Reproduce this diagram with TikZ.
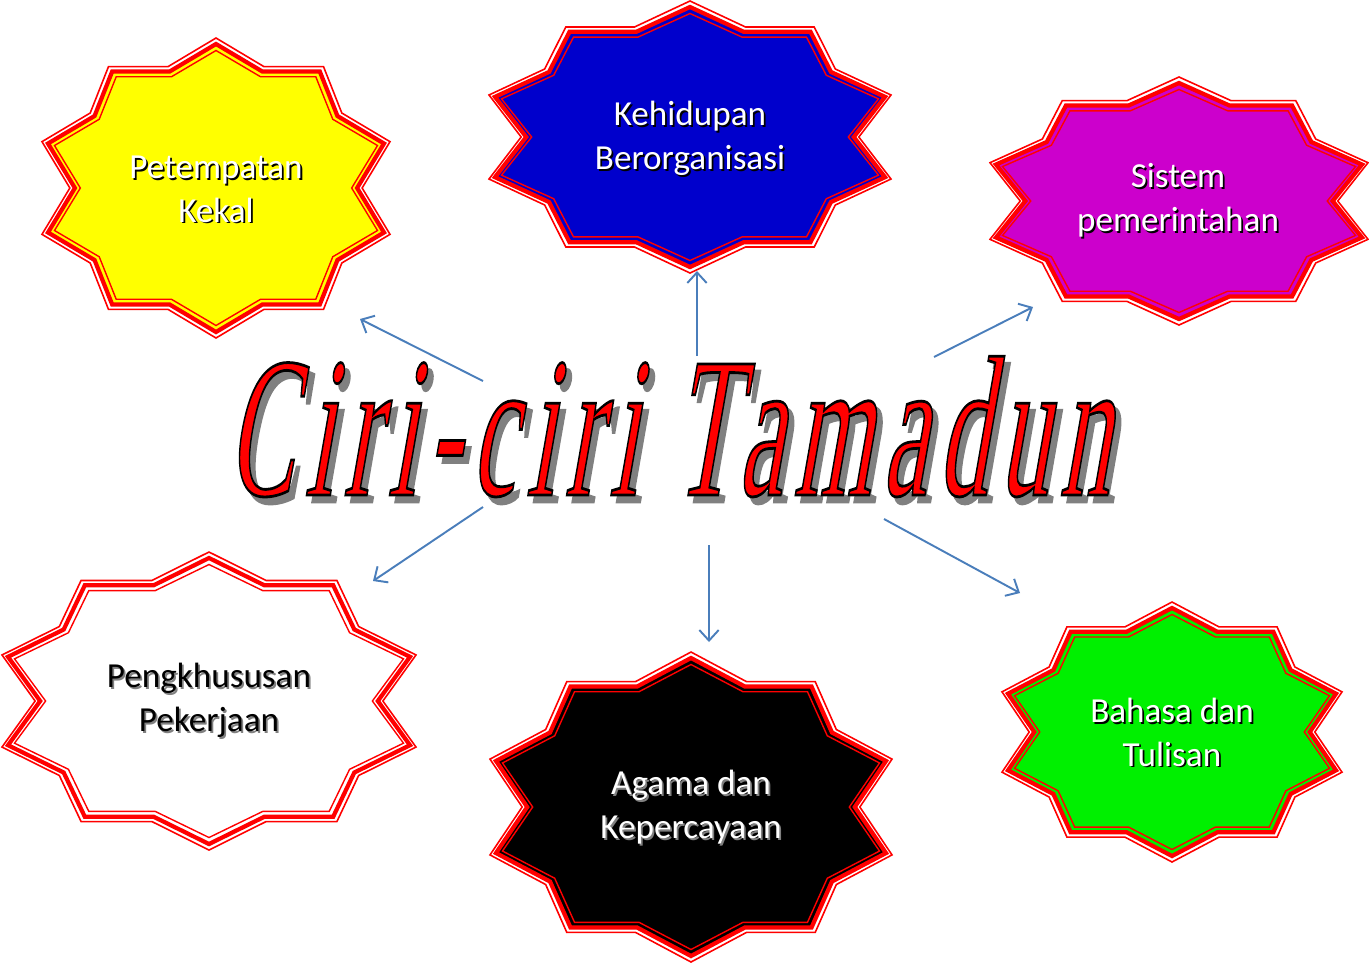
\documentclass[tikz,border=0pt]{standalone}
\usepackage{fontspec}
\setmainfont{Carlito}
\newfontfamily\titlefont[LetterSpace=11,FakeSlant=0.35]{Liberation Serif}
\usetikzlibrary{arrows.meta}

\definecolor{sealred}{HTML}{FF0000}
\definecolor{linkblue}{HTML}{4A7EBB}
\definecolor{sealyellow}{HTML}{FFFF00}
\definecolor{sealblue}{HTML}{0000CC}
\definecolor{sealmagenta}{HTML}{CC00CC}
\definecolor{sealgreen}{HTML}{00F000}
\definecolor{shadowgrey}{HTML}{808080}

\newcommand{\shadowed}[2]{\makebox[0pt][l]{\hspace{1pt}\raisebox{-1pt}{\textcolor{#1}{#2}}}#2}
\newcommand{\outlined}[3]{\textcolor{#1}{\special{pdf:literal direct 2 Tr #2 RG 0.14 w}#3\special{pdf:literal direct 0 Tr}}}

\begin{document}
\begin{tikzpicture}[x=0.02cm,y=-0.02cm,
  sealline/.style={draw=sealred,line join=miter},
  sealtext/.style={font=\fontsize{20}{25}\selectfont,align=center,text=white},
  link/.style={draw=linkblue,line width=1.1pt,-{Straight Barb[length=6pt,width=11pt]}}]

\useasboundingbox (0,0) rectangle (1369,965);

\def\sealpath{(0,1) -- (0.276,0.809) -- (0.618,0.809) -- (0.723,0.5) -- (1,0.309) -- (0.84,0) -- (1,-0.309) -- (0.723,-0.5) -- (0.618,-0.809) -- (0.276,-0.809) -- (0,-1) -- (-0.276,-0.809) -- (-0.618,-0.809) -- (-0.723,-0.5) -- (-1,-0.309) -- (-0.84,0) -- (-1,0.309) -- (-0.723,0.5) -- (-0.618,0.809) -- (-0.276,0.809) -- cycle}

\foreach \cx/\cy/\hw/\hh/\col in {216/188/174/150/sealyellow, 690/137/201/136/sealblue, 1179/201/189/124/sealmagenta, 209/701/207/149/white, 691/807/201/155/black, 1172/732/170/130/sealgreen}
{
  \pgfmathsetmacro{\hwa}{\hw-6}
  \pgfmathsetmacro{\hha}{\hh-6}
  \pgfmathsetmacro{\hwb}{\hw-12.5}
  \pgfmathsetmacro{\hhb}{\hh-12.5}
  \begin{scope}[shift={(\cx,\cy)}]
    \draw[sealline,fill=white,line width=0.9pt,xscale=\hw,yscale=-\hh] \sealpath;
    \draw[sealline,fill=\col,line width=2.4pt,xscale=\hwa,yscale=-\hha] \sealpath;
    \draw[sealline,line width=0.8pt,xscale=\hwb,yscale=-\hhb] \sealpath;
  \end{scope}
}

\node[sealtext] (petempatan) at (216,190) {\shadowed{black}{Petempatan}\\\shadowed{black}{Kekal}};
\node[sealtext] (kehidupan) at (690,139) {\shadowed{black}{Kehidupan}\\\shadowed{black}{Berorganisasi}};
\node[sealtext] (sistem) at (1178,201) {\shadowed{black}{Sistem}\\\shadowed{black}{pemerintahan}};
\node[sealtext,text=black] (pengkhususan) at (209,701) {\shadowed{shadowgrey}{Pengkhususan}\\\shadowed{shadowgrey}{Pekerjaan}};
\node[sealtext] (agama) at (691,808) {\shadowed{shadowgrey}{Agama dan}\\\shadowed{shadowgrey}{Kepercayaan}};
\node[sealtext] (bahasa) at (1172,733) {\shadowed{black}{Bahasa dan}\\\shadowed{black}{Tulisan}};

\node[anchor=base,inner sep=0pt] (judul) at (668,495) {\resizebox{502pt}{79pt}{\titlefont\makebox[0pt][l]{\hspace{0.55pt}\raisebox{-0.35pt}{\outlined{shadowgrey}{0.5 0.5 0.5}{Ciri-ciri Tamadun}}}\outlined{sealred}{0 0 0}{Ciri-ciri Tamadun}}};

\coordinate (judul-a) at (483,381);
\coordinate (judul-b) at (697,356);
\coordinate (judul-c) at (934,357);
\coordinate (judul-d) at (483,507);
\coordinate (judul-e) at (709,545);
\coordinate (judul-f) at (884,519);

\coordinate (petempatan-in) at (360,319);
\coordinate (kehidupan-in) at (697,271);
\coordinate (sistem-in) at (1033,307);
\coordinate (pengkhususan-in) at (373,581);
\coordinate (agama-in) at (709,642);
\coordinate (bahasa-in) at (1020,593);

\draw[link] (judul-a) -- (petempatan-in);
\draw[link] (judul-b) -- (kehidupan-in);
\draw[link] (judul-c) -- (sistem-in);
\draw[link] (judul-d) -- (pengkhususan-in);
\draw[link] (judul-e) -- (agama-in);
\draw[link] (judul-f) -- (bahasa-in);

\end{tikzpicture}
\end{document}
